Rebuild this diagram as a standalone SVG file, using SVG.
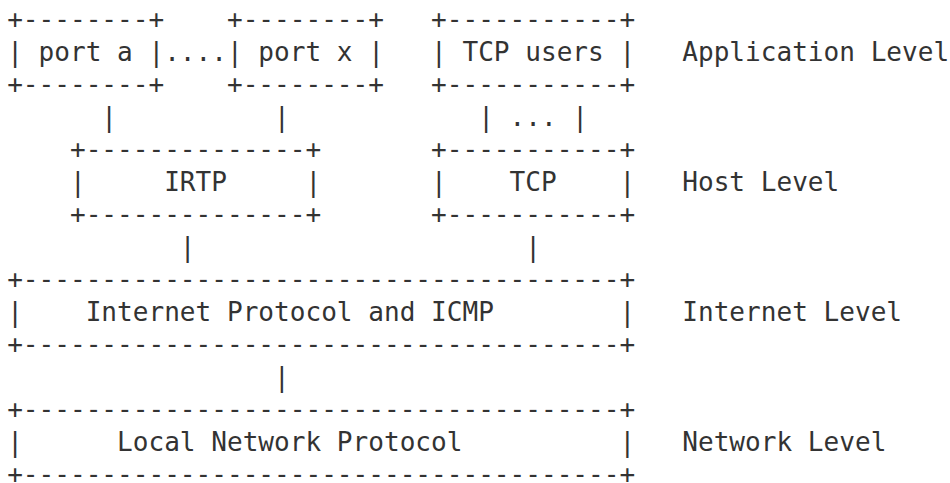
<svg xmlns="http://www.w3.org/2000/svg" width="950" height="483" viewBox="0 0 950 483" xml:space="preserve">
<style>
text{font-family:"DejaVu Sans Mono","Liberation Mono",monospace;font-size:26.08px;fill:#333333;white-space:pre}
</style>
<rect width="950" height="483" fill="#ffffff"/>
<g id="port-a">
<text x="7.15" y="28">+--------+</text>
<text x="7.15" y="60.5">| port a |</text>
<text x="7.15" y="93">+--------+</text>
</g>
<g id="port-x">
<text x="226.95" y="28">+--------+</text>
<text x="226.95" y="60.5">| port x |</text>
<text x="226.95" y="93">+--------+</text>
</g>
<g id="tcp-users">
<text x="431.05" y="28">+-----------+</text>
<text x="431.05" y="60.5">| TCP users |</text>
<text x="431.05" y="93">+-----------+</text>
</g>
<g id="irtp">
<text x="69.95" y="158">+--------------+</text>
<text x="69.95" y="190.5">|     IRTP     |</text>
<text x="69.95" y="223">+--------------+</text>
</g>
<g id="tcp">
<text x="431.05" y="158">+-----------+</text>
<text x="431.05" y="190.5">|    TCP    |</text>
<text x="431.05" y="223">+-----------+</text>
</g>
<g id="ip">
<text x="7.15" y="288">+--------------------------------------+</text>
<text x="7.15" y="320.5">|    Internet Protocol and ICMP        |</text>
<text x="7.15" y="353">+--------------------------------------+</text>
</g>
<g id="lnp">
<text x="7.15" y="418">+--------------------------------------+</text>
<text x="7.15" y="450.5">|      Local Network Protocol          |</text>
<text x="7.15" y="483">+--------------------------------------+</text>
</g>
<g id="connectors">
<text x="164.15" y="60.5">....</text>
<text x="101.35" y="125.5">|</text>
<text x="274.05" y="125.5">|</text>
<text x="478.15" y="125.5">| ... |</text>
<text x="179.85" y="255.5">|</text>
<text x="525.25" y="255.5">|</text>
<text x="274.05" y="385.5">|</text>
</g>
<g id="levels">
<text x="682.25" y="60.5">Application Level</text>
<text x="682.25" y="190.5">Host Level</text>
<text x="682.25" y="320.5">Internet Level</text>
<text x="682.25" y="450.5">Network Level</text>
</g>
</svg>
